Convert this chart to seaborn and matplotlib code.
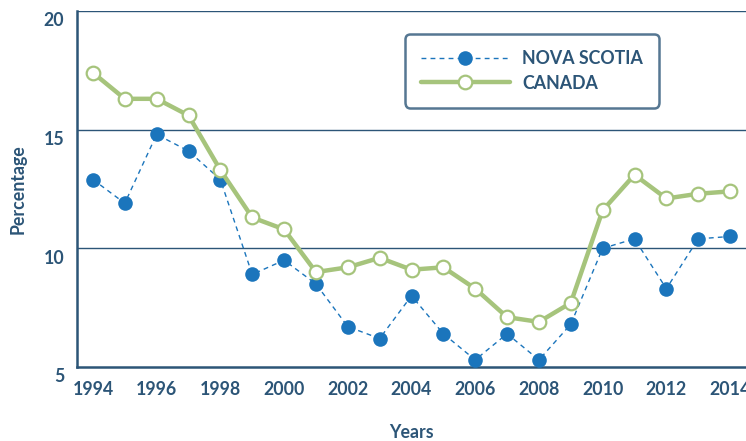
import numpy as np
import pandas as pd
import matplotlib
matplotlib.use("Agg")
import matplotlib.pyplot as plt
import matplotlib.transforms as mtransforms
from matplotlib.ticker import MultipleLocator, FixedLocator
import seaborn as sns

years = list(range(1994, 2015))
nova_scotia = [12.9, 11.9, 14.8, 14.1, 12.9, 8.9, 9.5, 8.5, 6.7, 6.2, 8.0,
               6.4, 5.3, 6.4, 5.3, 6.8, 10.0, 10.4, 8.3, 10.4, 10.5]
canada = [17.4, 16.3, 16.3, 15.6, 13.3, 11.3, 10.8, 9.0, 9.2, 9.6, 9.1,
          9.2, 8.3, 7.1, 6.9, 7.7, 11.6, 13.1, 12.1, 12.3, 12.4]

navy = "#2c5577"
ns_blue = "#1b75bc"
ca_green = "#a6c47c"
fs = 12.8

sns.set_style("white")
plt.rcParams['font.family'] = ['Lato', 'DejaVu Sans']
plt.rcParams['font.weight'] = 'bold'

df = pd.DataFrame({"year": years, "NOVA SCOTIA": nova_scotia, "CANADA": canada})

fig = plt.figure(figsize=(7.46, 4.41), dpi=100)
ax = fig.add_axes([77 / 746, 1 - 367 / 441, 669 / 746, 356 / 441])

sns.lineplot(data=df, x="year", y="NOVA SCOTIA", ax=ax, color=ns_blue,
             linewidth=1.0, linestyle=(0, (3.5, 3)), marker="o",
             markersize=10.5, markerfacecolor=ns_blue, markeredgewidth=0,
             label="NOVA SCOTIA", zorder=3)
sns.lineplot(data=df, x="year", y="CANADA", ax=ax, color=ca_green,
             linewidth=3.2, marker="o", markersize=9.8,
             markerfacecolor="white", markeredgecolor=ca_green,
             markeredgewidth=1.6, label="CANADA", zorder=4)

ax.set_xlim(1993.5, 2014.5)
ax.set_ylim(5, 20)
ax.set_yticks([5, 10, 15, 20])
ax.xaxis.set_major_locator(MultipleLocator(2))
ax.xaxis.set_minor_locator(FixedLocator(np.arange(1994.5, 2014, 1)))
ax.tick_params(axis="x", which="major", length=0, pad=10, labelsize=fs,
               labelcolor=navy)
ax.tick_params(axis="x", which="minor", length=7, width=1.2, direction="in",
               color=navy)
ax.tick_params(axis="y", length=0, pad=9, labelsize=fs, labelcolor=navy)

for lab in ax.get_yticklabels():
    lab.set_transform(lab.get_transform() +
                      mtransforms.ScaledTranslation(0, -6 / 72, fig.dpi_scale_trans))

for v in [10, 15, 20]:
    ax.axhline(v, color=navy, linewidth=1.0, zorder=1)

for side in ["top", "right"]:
    ax.spines[side].set_visible(False)
for side in ["left", "bottom"]:
    ax.spines[side].set_color(navy)
    ax.spines[side].set_linewidth(1.8)

ax.set_xlabel("Years", fontsize=fs, color=navy, fontweight="bold",
              labelpad=19)
ax.set_ylabel("Percentage", fontsize=fs, color=navy, fontweight="bold",
              labelpad=12)

leg = ax.legend(loc="upper left", bbox_to_anchor=(0.49, 0.935), fontsize=fs,
                handlelength=5.0, handletextpad=0.7, labelspacing=0.42,
                borderpad=0.9, borderaxespad=0, frameon=True, fancybox=True)
frame = leg.get_frame()
frame.set_edgecolor(navy)
frame.set_linewidth(1.8)
frame.set_boxstyle("round,pad=0,rounding_size=0.3")
for t in leg.get_texts():
    t.set_color(navy)

fig.savefig("out.png", dpi=100)
